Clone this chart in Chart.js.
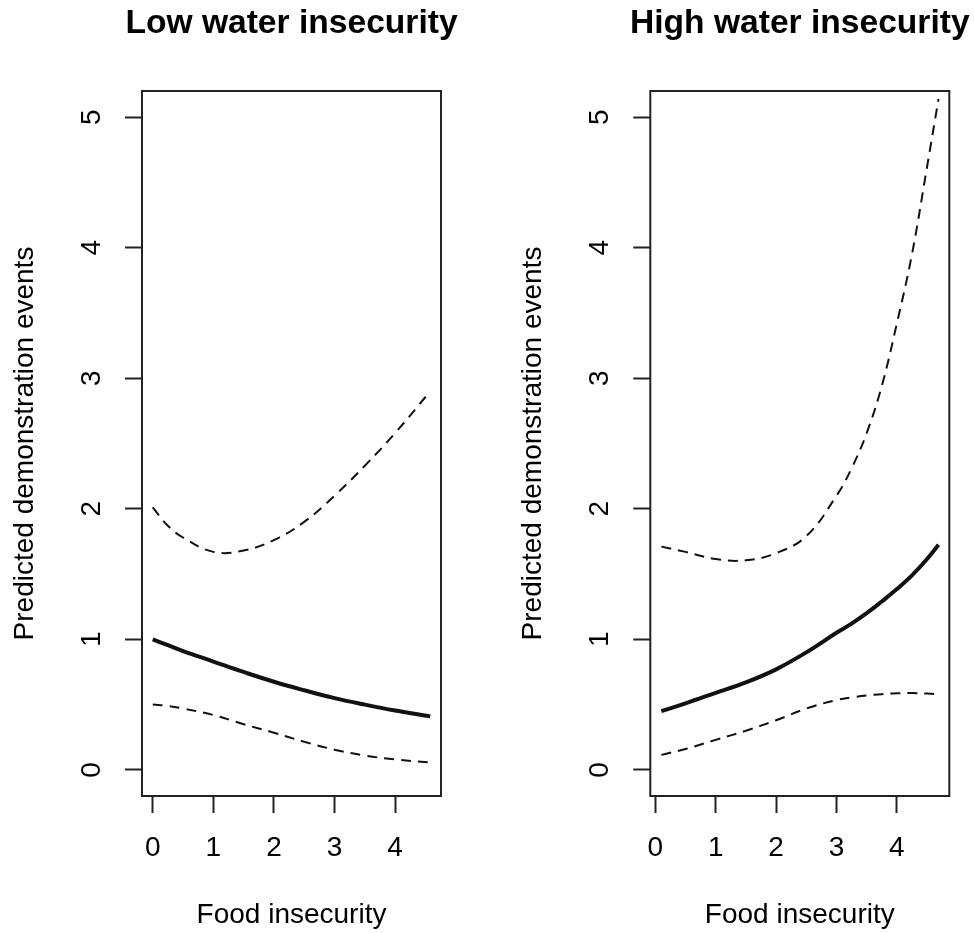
<!DOCTYPE html>
<html>
<head>
<meta charset="utf-8">
<script src="https://cdn.jsdelivr.net/npm/chart.js@4.4.1/dist/chart.umd.min.js"></script>
<style>
    html, body { margin: 0; padding: 0; background: #fff; }
    #wrap { position: relative; width: 974px; height: 933px; }
    canvas { position: absolute; top: 0; }
    #left { left: 0; }
    #right { left: 487px; }
</style>
</head>
<body>
<div id="wrap">
    <canvas id="left" width="487" height="933"></canvas>
    <canvas id="right" width="487" height="933"></canvas>
</div>
<script>
/* ================= DATA ================= */
const xTicks = [0, 1, 2, 3, 4];
const yTicks = [0, 1, 2, 3, 4, 5];

// low water insecurity panel
const lowX     = [0, 0.25, 0.5, 1, 1.5, 2, 2.5, 3, 3.5, 4, 4.58];
const lowFit   = [1.00, 0.955, 0.91, 0.83, 0.75, 0.675, 0.61, 0.55, 0.50, 0.455, 0.41];
const lowUpper = [2.01, 1.87, 1.78, 1.67, 1.68, 1.76, 1.90, 2.10, 2.33, 2.58, 2.90];
const lowLower = [0.50, 0.49, 0.47, 0.42, 0.35, 0.285, 0.215, 0.155, 0.11, 0.08, 0.056];

// high water insecurity panel
const highX     = [0.1, 0.5, 1, 1.5, 2, 2.5, 3, 3.25, 3.5, 3.75, 4, 4.25, 4.5, 4.69];
const highFit   = [0.45, 0.51, 0.59, 0.67, 0.77, 0.90, 1.05, 1.12, 1.20, 1.29, 1.385, 1.49, 1.615, 1.725];
const highUpper = [1.71, 1.67, 1.615, 1.605, 1.66, 1.79, 2.10, 2.31, 2.58, 2.94, 3.42, 3.95, 4.62, 5.14];
const highLower = [0.115, 0.16, 0.23, 0.30, 0.38, 0.47, 0.535, 0.555, 0.57, 0.58, 0.587, 0.588, 0.585, 0.578];

/* ================= HELPERS ================= */
const FONT = "'Liberation Sans', Arial, Helvetica, sans-serif";
const INK = "#111";

function pts(xs, ys) {
    return xs.map((x, i) => ({ x: x, y: ys[i] }));
}

// full box round the plot region (like R's box()) and the panel title over it
const boxPlugin = {
    id: "box",
    afterDraw(chart) {
        const a = chart.chartArea;
        const ctx = chart.ctx;
        ctx.save();
        ctx.strokeStyle = "#222";
        ctx.lineWidth = 2;
        ctx.strokeRect(a.left, a.top, a.right - a.left, a.bottom - a.top);

        const title = chart.options.plugins.box.title;
        ctx.fillStyle = "#000";
        ctx.font = "bold 33.6px " + FONT;
        ctx.textAlign = "center";
        ctx.textBaseline = "alphabetic";
        ctx.fillText(title, (a.left + a.right) / 2, 33);
        ctx.restore();
    }
};

function makePanel(id, title, xs, fit, upper, lower, xMin, xMax, yAxisWidth, rightPad, yTitlePad) {
    const dashed = { borderColor: INK, borderWidth: 2, borderDash: [10, 7], pointRadius: 0, tension: 0.4 };
    return new Chart(document.getElementById(id), {
        type: "line",
        data: {
            datasets: [
                Object.assign({ label: "upper", data: pts(xs, upper) }, dashed),
                { label: "fit", data: pts(xs, fit), borderColor: INK, borderWidth: 4, pointRadius: 0, tension: 0.4 },
                Object.assign({ label: "lower", data: pts(xs, lower) }, dashed)
            ]
        },
        options: {
            responsive: false,
            animation: false,
            devicePixelRatio: 1,
            layout: { padding: { left: 0, right: rightPad, top: 91, bottom: 0 } },
            plugins: {
                legend: { display: false },
                tooltip: { enabled: false },
                title: { display: false },
                box: { title: title }
            },
            scales: {
                x: {
                    type: "linear",
                    min: xMin,
                    max: xMax,
                    afterBuildTicks: s => { s.ticks = xTicks.map(v => ({ value: v })); },
                    afterFit: s => { s.height = 137; },
                    border: { display: false },
                    grid: { drawOnChartArea: false, drawTicks: true, tickLength: 17, tickWidth: 2, tickColor: "#222" },
                    ticks: { color: "#000", padding: 18, maxRotation: 0, font: { family: FONT, size: 28 } },
                    title: { display: true, text: "Food insecurity", color: "#000", font: { family: FONT, size: 28 }, padding: { top: 0, bottom: 1 } }
                },
                y: {
                    type: "linear",
                    min: -0.2,
                    max: 5.2,
                    afterBuildTicks: s => { s.ticks = yTicks.map(v => ({ value: v })); },
                    afterFit: s => { s.width = yAxisWidth; },
                    border: { display: false },
                    grid: { drawOnChartArea: false, drawTicks: true, tickLength: 17, tickWidth: 2, tickColor: "#222" },
                    ticks: { color: "#000", padding: 25, minRotation: 90, maxRotation: 90, crossAlign: "center", font: { family: FONT, size: 28 } },
                    title: { display: true, text: "Predicted demonstration events", color: "#000", font: { family: FONT, size: 28 }, padding: { top: yTitlePad, bottom: 0 } }
                }
            }
        },
        plugins: [boxPlugin]
    });
}

/* ================= PANELS ================= */
makePanel("left", "Low water insecurity", lowX, lowFit, lowUpper, lowLower, -0.177, 4.757, 142, 46, 8.2);
makePanel("right", "High water insecurity", highX, highFit, highUpper, highLower, -0.083, 4.868, 163.3, 24.7, 29.9);
</script>
</body>
</html>
